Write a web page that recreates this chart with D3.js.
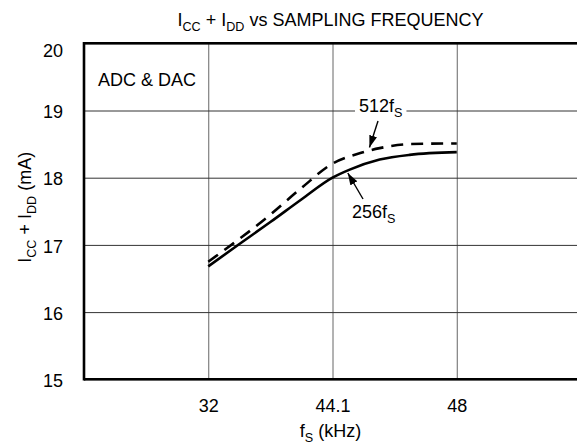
<!DOCTYPE html>
<html><head><meta charset="utf-8">
<script src="https://cdn.jsdelivr.net/npm/d3@7"></script>
<style>
body{margin:0;background:#fff}
svg{display:block}
text{font-family:"Liberation Sans",Arial,Helvetica,sans-serif;fill:#000}
</style>
</head><body>
<svg id="c" width="577" height="445"></svg>
<script>
// ---- data ----
const xTicks = [32, 44.1, 48];
const xTickLabels = ["32", "44.1", "48"];
const yTicks = [15, 16, 17, 18, 19, 20];
const freq256 = [32, 35.0, 38.05, 41.1, 44.1, 44.64, 45.58, 46.52, 48];
const icc256  = [16.68, 17.01, 17.34, 17.68, 18.0, 18.12, 18.27, 18.34, 18.38];
const freq512 = [32, 38.05, 41.1, 44.1, 45.0, 45.58, 46.52, 48];
const icc512  = [16.75, 17.45, 17.85, 18.21, 18.37, 18.44, 18.5, 18.51];

// ---- layout ----
const L = 84, R = 581, T = 43.3, B = 379.3;
const step = (R - L) / 4;
const svg = d3.select("#c");

const x = d3.scaleLinear().domain(xTicks).range(xTicks.map((d, i) => L + (i + 1) * step));
const y = d3.scaleLinear().domain([15, 20]).range([B, T]);

// grid via axes
const gx = svg.append("g").attr("transform", `translate(0,${B})`)
  .call(d3.axisBottom(x).tickValues(xTicks).tickSize(-(B - T)).tickPadding(20)
    .tickFormat((d, i) => xTickLabels[i]));
gx.select(".domain").remove();
gx.selectAll("line").attr("stroke", "#666").attr("stroke-width", 1);
gx.selectAll("text").attr("font-size", 18).attr("font-family", null);

const gy = svg.append("g").attr("transform", `translate(${L},0)`)
  .call(d3.axisLeft(y).tickValues(yTicks).tickSize(-(R - L)).tickPadding(21).tickFormat(d3.format("d")));
gy.select(".domain").remove();
gy.selectAll("line").attr("stroke", "#333").attr("stroke-width", 1);
gy.selectAll("text").attr("font-size", 18).attr("font-family", null).attr("dy", "0.4em")
  .attr("y", d => Math.max(0, T + 6 - y(d)));

// curves
const line = d3.line().x(d => x(d[0])).y(d => y(d[1])).curve(d3.curveMonotoneX);
svg.append("path").datum(freq256.map((f, i) => [f, icc256[i]]))
  .attr("d", line).attr("fill", "none").attr("stroke", "#000").attr("stroke-width", 2.6);
svg.append("path").datum(freq512.map((f, i) => [f, icc512[i]]))
  .attr("d", line).attr("fill", "none").attr("stroke", "#000").attr("stroke-width", 2.6)
  .attr("stroke-dasharray", "12,8");

// frame
const fr = svg.append("g").attr("stroke", "#000").attr("stroke-width", 2.6);
fr.append("line").attr("x1", L).attr("x2", R).attr("y1", T).attr("y2", T);
fr.append("line").attr("x1", L).attr("x2", R).attr("y1", B).attr("y2", B);
fr.append("line").attr("x1", L).attr("x2", L).attr("y1", T - 1.3).attr("y2", B + 1.3);
fr.append("line").attr("x1", R).attr("x2", R).attr("y1", T).attr("y2", B);

// helper for subscripted text
function subText(sel, parts, fs) {
  parts.forEach(p => {
    if (p.sub) {
      sel.append("tspan").attr("font-size", fs * 0.7).attr("dy", fs * 0.25).text(p.t);
    } else {
      const ts = sel.append("tspan").text(p.t);
      if (p.back) ts.attr("dy", -fs * 0.25);
    }
  });
}

// title
const title = svg.append("text").attr("x", (L + R) / 2 - 2).attr("y", 26)
  .attr("text-anchor", "middle").attr("font-size", 18);
subText(title, [{t:"I"},{t:"CC",sub:true},{t:" + I",back:true},{t:"DD",sub:true},{t:" vs SAMPLING FREQUENCY",back:true}], 18);

// inset label
svg.append("text").attr("x", 98).attr("y", 86).attr("font-size", 18).text("ADC & DAC");

// axis titles
const xl = svg.append("text").attr("x", (L + R) / 2 - 2).attr("y", 437)
  .attr("text-anchor", "middle").attr("font-size", 18);
subText(xl, [{t:"f"},{t:"S",sub:true},{t:" (kHz)",back:true}], 18);

const yl = svg.append("text").attr("transform", `translate(31,${(T + B) / 2 - 4}) rotate(-90)`)
  .attr("text-anchor", "middle").attr("font-size", 18);
subText(yl, [{t:"I"},{t:"CC",sub:true},{t:" + I",back:true},{t:"DD",sub:true},{t:" (mA)",back:true}], 18);

// annotations
svg.append("defs").append("marker").attr("id", "ah")
  .attr("markerUnits", "userSpaceOnUse").attr("markerWidth", 12).attr("markerHeight", 8)
  .attr("refX", 12).attr("refY", 4).attr("orient", "auto")
  .append("path").attr("d", "M0,0 L12,4 L0,8 Z").attr("fill", "#000");

// 512fS
const t512 = svg.append("text").attr("x", 359).attr("y", 112).attr("font-size", 18);
subText(t512, [{t:"512f"},{t:"S",sub:true}], 18);
const bb = t512.node().getBBox();
svg.insert("rect", () => t512.node()).attr("x", bb.x - 4).attr("y", y(19) - 3)
  .attr("width", bb.width + 8).attr("height", 6).attr("fill", "#fff");
svg.append("line").attr("x1", 378).attr("y1", 121).attr("x2", x(45.26)).attr("y2", y(18.45))
  .attr("stroke", "#000").attr("stroke-width", 1.4).attr("marker-end", "url(#ah)");

// 256fS
const t256 = svg.append("text").attr("x", 352).attr("y", 218).attr("font-size", 18);
subText(t256, [{t:"256f"},{t:"S",sub:true}], 18);
svg.append("line").attr("x1", 363).attr("y1", 199).attr("x2", x(44.58)).attr("y2", y(18.07))
  .attr("stroke", "#000").attr("stroke-width", 1.4).attr("marker-end", "url(#ah)");
</script>
</body></html>
